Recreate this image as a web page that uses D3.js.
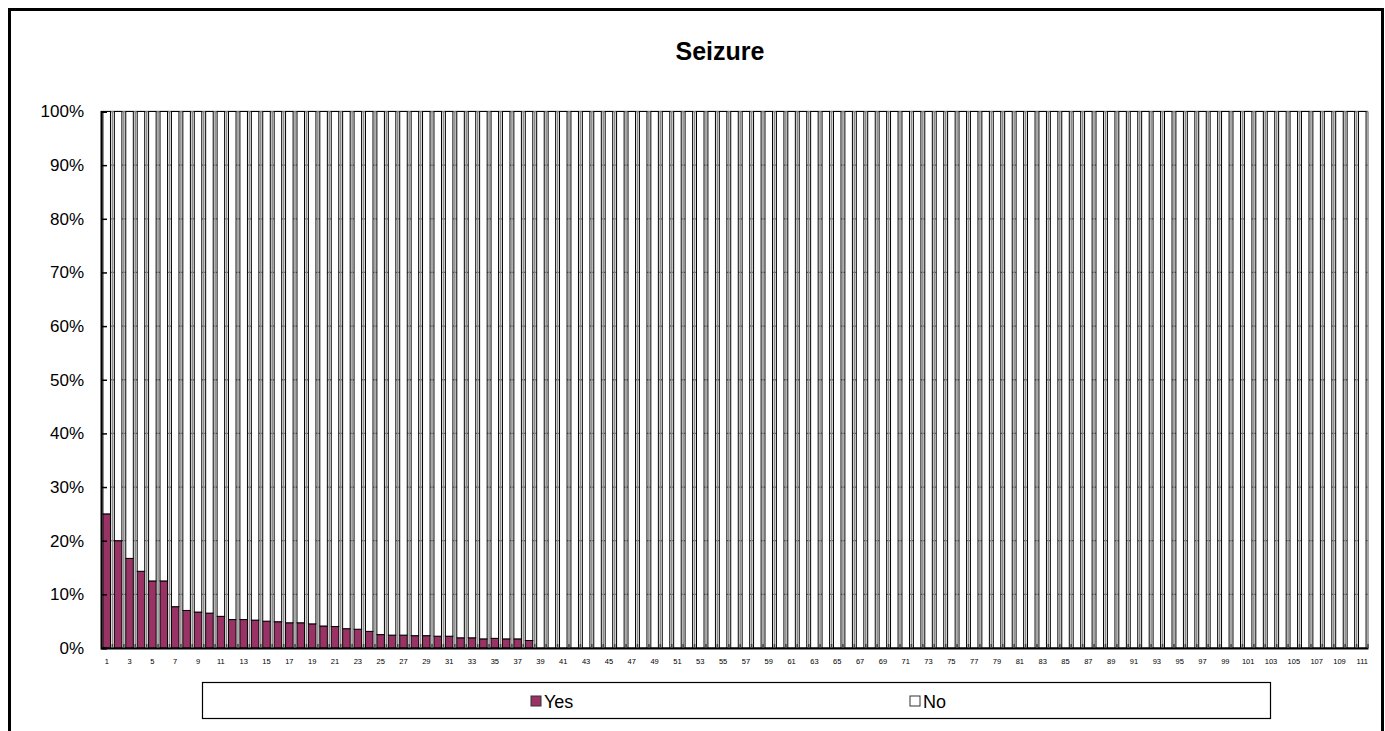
<!DOCTYPE html>
<html><head><meta charset="utf-8">
<script src="https://cdn.jsdelivr.net/npm/d3@7"></script>
<style>body{margin:0;background:#fff}svg{display:block}</style>
</head><body>
<svg id="c" width="1385" height="731"></svg>
<script>
const title = "Seizure";
const categories = d3.range(1, 112);
const yesValues = [25,20,16.7,14.3,12.5,12.5,7.7,7.0,6.7,6.5,5.9,5.3,5.3,5.2,5.0,4.9,4.7,4.7,4.5,4.1,4.0,3.6,3.5,3.1,2.5,2.4,2.4,2.3,2.3,2.2,2.2,1.9,1.9,1.7,1.8,1.7,1.7,1.4,
0,0,0,0,0,0,0,0,0,0,0,0,0,0,0,0,0,0,0,0,0,0,0,0,0,0,0,0,0,0,0,0,0,0,0,0,0,0,0,0,0,0,0,0,0,0,0,0,0,0,0,0,0,0,0,0,0,0,0,0,0,0,0,0,0,0,0,0,0,0,0,0,0];
const noValues = [75,80,83.3,85.7,87.5,87.5,92.3,93.0,93.3,93.5,94.1,94.7,94.7,94.8,95.0,95.1,95.3,95.3,95.5,95.9,96.0,96.4,96.5,96.9,97.5,97.6,97.6,97.7,97.7,97.8,97.8,98.1,98.1,98.3,98.2,98.3,98.3,98.6,
100,100,100,100,100,100,100,100,100,100,100,100,100,100,100,100,100,100,100,100,100,100,100,100,100,100,100,100,100,100,100,100,100,100,100,100,100,100,100,100,100,100,100,100,100,100,100,100,100,100,100,100,100,100,100,100,100,100,100,100,100,100,100,100,100,100,100,100,100,100,100,100,100];
const seriesNames = ["Yes", "No"];
const seriesColors = ["#993366", "#ffffff"];
const yTicks = [0,0.1,0.2,0.3,0.4,0.5,0.6,0.7,0.8,0.9,1];

const rows = categories.map((c, i) => ({cat: c, Yes: yesValues[i], No: noValues[i]}));
const stacked = d3.stack().keys(seriesNames).offset(d3.stackOffsetExpand)(rows);

const svg = d3.select("#c");
const L = 101, R = 1368, T = 111.5, B = 648;
const FONT = "Liberation Sans, Arial, sans-serif";

// outer frame
svg.append("rect").attr("x", 9.5).attr("y", 9.5).attr("width", 1373).attr("height", 740)
  .attr("fill", "none").attr("stroke", "#000").attr("stroke-width", 3);

svg.append("text").attr("x", 720).attr("y", 60).attr("text-anchor", "middle")
  .attr("font-family", FONT).attr("font-weight", "bold")
  .attr("font-size", 25).text(title);

const x = d3.scaleBand().domain(categories).range([L, R]).paddingInner(0.34).paddingOuter(0.17);
const y = d3.scaleLinear().domain([0, 1]).range([B, T]);
const step = x.step();
const boundary = d => x(d) - x.paddingInner() * step / 2 + step;

// horizontal gridlines
svg.append("g").selectAll("line").data(yTicks).join("line")
  .attr("x1", L).attr("x2", R).attr("y1", d => y(d)).attr("y2", d => y(d))
  .attr("stroke", "#7a7a7a").attr("stroke-width", 1.3);

// vertical gridlines at category boundaries
svg.append("g").selectAll("line").data(categories).join("line")
  .attr("x1", boundary).attr("x2", boundary)
  .attr("y1", T).attr("y2", B)
  .attr("stroke", "#8a8a8a").attr("stroke-width", 1.5);

// bars
const gBars = svg.append("g");
stacked.forEach((s, si) => {
  gBars.append("g").selectAll("rect").data(s).join("rect")
    .attr("x", d => x(d.data.cat))
    .attr("width", x.bandwidth())
    .attr("y", d => y(d[1]))
    .attr("height", d => Math.max(0, y(d[0]) - y(d[1])))
    .attr("fill", seriesColors[si])
    .attr("stroke", "#000").attr("stroke-width", 1);
});

// axes
const yAxis = d3.axisLeft(y).tickValues(yTicks).tickFormat(d3.format(".0%")).tickSize(-6).tickPadding(17);
const gy = svg.append("g").attr("transform", `translate(${L},0)`).call(yAxis);
gy.select(".domain").attr("stroke", "#000").attr("stroke-width", 2);
gy.selectAll(".tick line").attr("stroke", "#000").attr("stroke-width", 1.5);
gy.selectAll(".tick text").attr("font-family", FONT)
  .attr("font-size", 17).attr("fill", "#000");

const xAxis = d3.axisBottom(x).tickValues(categories.filter(c => c % 2 === 1)).tickSize(0).tickPadding(11);
const gx = svg.append("g").attr("transform", `translate(0,${B})`).call(xAxis);
gx.select(".domain").attr("stroke", "#000").attr("stroke-width", 2);
gx.selectAll(".tick text").attr("font-family", FONT)
  .attr("font-size", 7.5).attr("fill", "#000");
// small boundary ticks
svg.append("g").selectAll("line").data(categories).join("line")
  .attr("x1", boundary).attr("x2", boundary)
  .attr("y1", B - 4).attr("y2", B)
  .attr("stroke", "#444").attr("stroke-width", 1.5);

// legend
const lg = svg.append("g");
lg.append("rect").attr("x", 202.5).attr("y", 682.5).attr("width", 1068).attr("height", 36)
  .attr("fill", "#fff").attr("stroke", "#000").attr("stroke-width", 1.2);
const legX = d3.scalePoint().domain(seriesNames).range([531, 910]);
seriesNames.forEach((n, i) => {
  lg.append("rect").attr("x", legX(n)).attr("y", 696).attr("width", 10).attr("height", 10)
    .attr("fill", seriesColors[i]).attr("stroke", "#333").attr("stroke-width", 1);
  lg.append("text").attr("x", legX(n) + 13).attr("y", 707.5)
    .attr("font-family", FONT).attr("font-size", 18)
    .text(n);
});
</script>
</body></html>
